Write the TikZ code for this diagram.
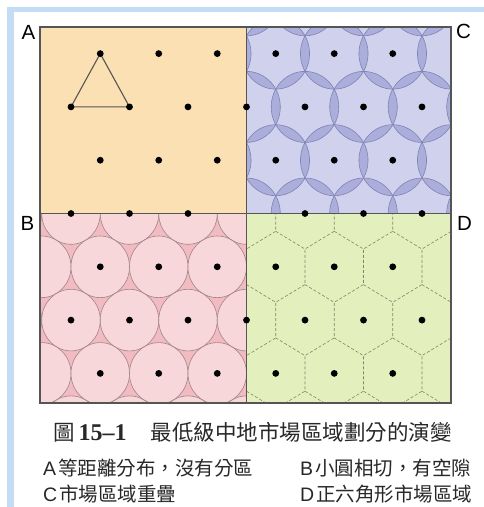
\documentclass[tikz,border=0pt]{standalone}
\usepackage{fontspec}
\setmainfont{Liberation Sans}
\newfontfamily\cjkfont{Noto Sans CJK TC}
\newfontfamily\numfont{Liberation Serif}
\usepackage{tikz}
\definecolor{frameblue}{RGB}{196,221,244}
\definecolor{peach}{RGB}{250,224,178}
\definecolor{pinkgap}{RGB}{242,186,193}
\definecolor{pinkcirc}{RGB}{247,215,218}
\definecolor{pinkline}{RGB}{160,132,134}
\definecolor{lavbase}{RGB}{208,209,237}
\definecolor{lavlens}{RGB}{171,173,219}
\definecolor{lavline}{RGB}{128,130,180}
\definecolor{limegreen}{RGB}{228,239,190}
\definecolor{hexline}{RGB}{128,132,108}
\definecolor{edgegray}{RGB}{85,85,85}
\definecolor{inkgray}{RGB}{40,40,40}
% lattice point (i,j) -> \latX, \latY
\newcommand{\latpt}[2]{%
  \pgfmathsetmacro\latX{71+58.5*#1+29.25*(1-mod(#2+2,2))}%
  \pgfmathsetmacro\latY{213.5+53.3*(#2-3)}}

\begin{document}
\begin{tikzpicture}[x=1pt,y=-1pt,
    border/.style={draw=edgegray,line width=1.2pt},
    smallring/.style={fill=pinkcirc,draw=pinkline,line width=0.6pt},
    bigring/.style={draw=lavline,line width=0.6pt},
    hexedge/.style={draw=hexline,line width=0.6pt,dash pattern=on 3pt off 2pt},
    label/.style={font=\fontsize{20.5}{21}\selectfont,inner sep=0pt},
    item/.style={font=\fontsize{19.5}{20}\selectfont,text=inkgray,anchor=west,inner sep=0pt}]
  \useasboundingbox (0,0) rectangle (484,507);
  \fill[white] (0,0) rectangle (484,507);
  \fill[frameblue] (7,7) rectangle (484,12);
  \fill[frameblue] (7,7) rectangle (14,507);

  % A
  \fill[peach] (40,27) rectangle (246.5,213.5);

  % B
  \begin{scope}
    \clip (40,213.5) rectangle (246.5,403);
    \fill[pinkgap] (40,213.5) rectangle (246.5,403);
    \foreach \j in {3,...,7}
      \foreach \i in {-1,...,4} {
        \latpt{\i}{\j}
        \path[smallring] (\latX,\latY) ellipse [x radius=29.25pt, y radius=30.8pt];
      }
  \end{scope}

  % C
  \begin{scope}
    \clip (246.5,27) rectangle (451,213.5);
    \fill[lavbase] (246.5,27) rectangle (451,213.5);
    \foreach \j in {-1,...,4}
      \foreach \i in {2,...,7} {
        \latpt{\i}{\j}
        \foreach \dx/\dy in {58.5/0,29.25/53.3,-29.25/53.3} {
          \begin{scope}
            \clip (\latX,\latY) ellipse [x radius=33.8pt, y radius=35.5pt];
            \fill[lavlens] (\latX+\dx,\latY+\dy) ellipse [x radius=33.8pt, y radius=35.5pt];
          \end{scope}
        }
      }
    \foreach \j in {-1,...,4}
      \foreach \i in {2,...,7} {
        \latpt{\i}{\j}
        \path[bigring] (\latX,\latY) ellipse [x radius=33.8pt, y radius=35.5pt];
      }
  \end{scope}

  % D
  \begin{scope}
    \clip (246.5,213.5) rectangle (451,403);
    \fill[limegreen] (246.5,213.5) rectangle (451,403);
    \foreach \j in {2,...,7}
      \foreach \i in {2,...,7} {
        \latpt{\i}{\j}
        \path[hexedge] (\latX,\latY-35.5) -- (\latX+29.25,\latY-17.75)
          -- (\latX+29.25,\latY+17.75) -- (\latX,\latY+35.5);
      }
  \end{scope}

  \draw[border] (40,27) rectangle (451,403);
  \draw[border] (246.5,27) -- (246.5,403);
  \draw[border] (40,213.5) -- (451,213.5);

  % triangle in A
  \latpt{0}{0} \coordinate (t1) at (\latX,\latY);
  \latpt{0}{1} \coordinate (t2) at (\latX,\latY);
  \latpt{1}{1} \coordinate (t3) at (\latX,\latY);
  \draw[edgegray,line width=1.1pt,line join=round] (t1) -- (t2) -- (t3) -- cycle;

  % centres
  \foreach \j in {0,...,6}
    \foreach \i in {0,...,6} {
      \latpt{\i}{\j}
      \pgfmathtruncatemacro\keep{(\latX<450)*(1-(\i==3)*(\j==3))}
      \ifnum\keep=1
        \fill (\latX,\latY) circle (3.4pt);
      \fi
    }

  \node[label] (la) at (28.5,32) {A};
  \node[label] (lb) at (27.5,223) {B};
  \node[label] (lc) at (463.5,31) {C};
  \node[label] (ld) at (464.5,223) {D};

  \node[item,font=\fontsize{21.5}{22}\selectfont] (cap) at (53,432)
    {{\cjkfont 圖}\hspace{4pt}{\numfont\bfseries\fontsize{24}{24}\selectfont 15–1}\hspace{24pt}{\cjkfont 最低級中地市場區域劃分的演變}};
  \node[item] (ta) at (43,468) {A\hspace{2pt}{\cjkfont 等距離分布，沒有分區}};
  \node[item] (tb) at (300,468) {B\hspace{2pt}{\cjkfont 小圓相切，有空隙}};
  \node[item] (tc) at (43,494) {C\hspace{2pt}{\cjkfont 市場區域重疊}};
  \node[item] (td) at (300,494) {D\hspace{2pt}{\cjkfont 正六角形市場區域}};
\end{tikzpicture}
\end{document}
